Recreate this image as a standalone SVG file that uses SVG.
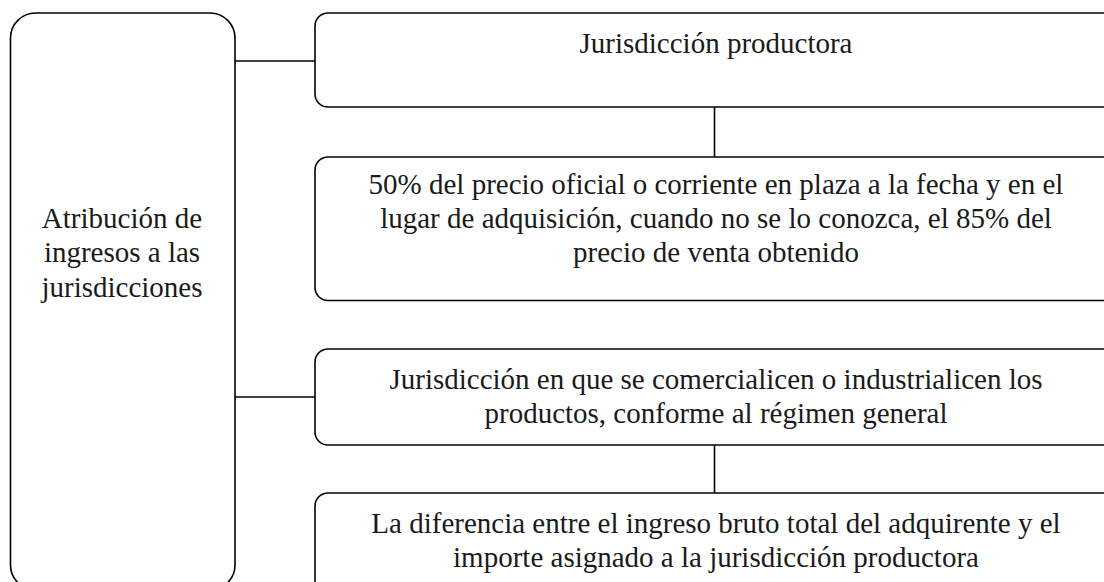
<svg xmlns="http://www.w3.org/2000/svg" width="1104" height="582" viewBox="0 0 1104 582">
<style>
.box{fill:#fff;stroke:#000;stroke-width:1.6}
.conn line{stroke:#000;stroke-width:1.6}
</style>
<rect width="1104" height="582" fill="#fff"/>
<g class="conn">
<line x1="235" y1="61" x2="315" y2="61"/>
<line x1="235" y1="397" x2="315" y2="397"/>
<line x1="714.5" y1="107" x2="714.5" y2="157"/>
<line x1="714.5" y1="445" x2="714.5" y2="493"/>
</g>
<g font-family="Liberation Serif" font-size="29" fill="#1a1a1a" text-anchor="middle">
<g id="n-left">
<rect class="box" x="10.5" y="13" width="224.5" height="577" rx="25"/>
<text x="122" y="228">Atribución de</text>
<text x="122" y="262">ingresos a las</text>
<text x="122" y="297">jurisdicciones</text>
</g>
<g id="n-prod">
<rect class="box" x="315" y="13" width="803" height="94" rx="13"/>
<text x="716" y="53">Jurisdicción productora</text>
</g>
<g id="n-50">
<rect class="box" x="315" y="157" width="803" height="143.5" rx="13"/>
<text x="716" y="194">50% del precio oficial o corriente en plaza a la fecha y en el</text>
<text x="716" y="228">lugar de adquisición, cuando no se lo conozca, el 85% del</text>
<text x="716" y="262">precio de venta obtenido</text>
</g>
<g id="n-comer">
<rect class="box" x="315" y="349" width="803" height="96" rx="13"/>
<text x="716" y="389">Jurisdicción en que se comercialicen o industrialicen los</text>
<text x="716" y="423">productos, conforme al régimen general</text>
</g>
<g id="n-dif">
<rect class="box" x="315" y="493" width="803" height="120" rx="13"/>
<text x="716" y="533">La diferencia entre el ingreso bruto total del adquirente y el</text>
<text x="716" y="567">importe asignado a la jurisdicción productora</text>
</g>
</g>
</svg>
